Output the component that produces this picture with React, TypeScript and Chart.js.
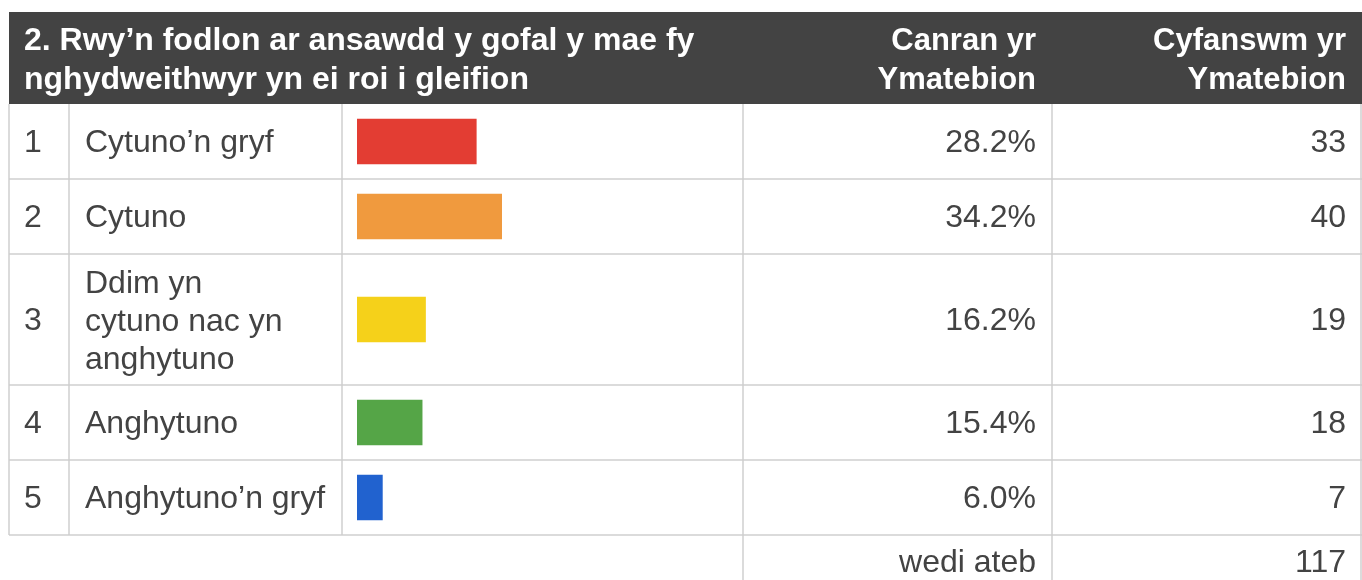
import { useEffect, useRef } from "react";
import { Chart, registerables } from "chart.js";

Chart.register(...registerables);

// ---- data ----
const questionTitle = ["2. Rwy’n fodlon ar ansawdd y gofal y mae fy", "nghydweithwyr yn ei roi i gleifion"];
const percentHeader = ["Canran yr", "Ymatebion"];
const countHeader = ["Cyfanswm yr", "Ymatebion"];
const rowNumbers = ["1", "2", "3", "4", "5"];
const categories = ["Cytuno’n gryf", "Cytuno", "Ddim yn cytuno nac yn anghytuno", "Anghytuno", "Anghytuno’n gryf"];
const categoryLines = [["Cytuno’n gryf"], ["Cytuno"], ["Ddim yn", "cytuno nac yn", "anghytuno"], ["Anghytuno"], ["Anghytuno’n gryf"]];
const percentages = [28.2, 34.2, 16.2, 15.4, 6.0];
const counts = [33, 40, 19, 18, 7];
const totalLabel = "wedi ateb";
const totalCount = 117;
const barColors = ["#e33d33", "#f09a3e", "#f5d11a", "#55a547", "#2162cf"];

// ---- layout / style ----
const W = 1362;
const H = 580;
const COLS = [9, 69, 342, 743, 1052, 1361];
const HEADER_TOP = 12;
const HEADER_BOTTOM = 104;
const BAR_LEFT = 357;
const PX_PER_PCT = 4.23;
const ROW_MIN = 75;
const LINE_H = 38;
const ROW_PAD = 17;
const DARK = "#434343";
const LINE = "#cfcfcf";
const BODY_FONT = "32px 'Liberation Sans', Arial, sans-serif";
const TITLE_FONT = "bold 32px 'Liberation Sans', Arial, sans-serif";
const HEAD_FONT = "bold 31px 'Liberation Sans', Arial, sans-serif";

const rowHeights = categoryLines.map((l) => Math.max(ROW_MIN, l.length * LINE_H + ROW_PAD));
const rowBounds: number[] = [0];
rowHeights.forEach((h, i) => rowBounds.push(rowBounds[i] + h));
const bodyHeight = rowBounds[rowBounds.length - 1];
const rowCenters = rowHeights.map((h, i) => rowBounds[i] + h / 2);

const tablePlugin = {
  id: "surveyTable",
  beforeDatasetsDraw(chart: any) {
    const ctx: CanvasRenderingContext2D = chart.ctx;
    const ys = chart.scales.y;
    const left = COLS[0];
    const right = COLS[COLS.length - 1];
    const bodyTop = ys.getPixelForValue(0);
    const bodyBottom = ys.getPixelForValue(bodyHeight);
    ctx.save();
    ctx.fillStyle = "#ffffff";
    ctx.fillRect(0, 0, W, H);

    // header
    ctx.fillStyle = DARK;
    ctx.fillRect(left, HEADER_TOP, right - left + 1, bodyTop - HEADER_TOP);
    ctx.fillStyle = "#ffffff";
    ctx.textBaseline = "alphabetic";
    const headBase = [50, 89];
    ctx.textAlign = "left";
    ctx.font = TITLE_FONT;
    questionTitle.forEach((t, i) => ctx.fillText(t, 24, headBase[i]));
    ctx.font = HEAD_FONT;
    ctx.textAlign = "right";
    percentHeader.forEach((t, i) => ctx.fillText(t, COLS[4] - 16, headBase[i]));
    countHeader.forEach((t, i) => ctx.fillText(t, COLS[5] - 15, headBase[i]));

    // grid lines
    ctx.strokeStyle = LINE;
    ctx.lineWidth = 1.5;
    ctx.beginPath();
    rowBounds.forEach((b, i) => {
      if (i === 0) return;
      const y = ys.getPixelForValue(b);
      ctx.moveTo(left, y);
      ctx.lineTo(right + 1, y);
    });
    COLS.forEach((x) => {
      ctx.moveTo(x, bodyTop);
      ctx.lineTo(x, bodyBottom);
    });
    [COLS[3], COLS[4], COLS[5]].forEach((x) => {
      ctx.moveTo(x, bodyBottom);
      ctx.lineTo(x, H);
    });
    ctx.stroke();

    // body text
    ctx.fillStyle = DARK;
    ctx.font = BODY_FONT;
    categories.forEach((_, i) => {
      const cy = ys.getPixelForValue(rowCenters[i]);
      const base = cy + 10.5;
      ctx.textAlign = "left";
      ctx.fillText(rowNumbers[i], 24, base);
      const lines = categoryLines[i];
      const off = lines.length > 1 ? 1 : 0;
      lines.forEach((ln, k) => {
        ctx.fillText(ln, 85, base + off + (k - (lines.length - 1) / 2) * LINE_H);
      });
      ctx.textAlign = "right";
      ctx.fillText(percentages[i].toFixed(1) + "%", COLS[4] - 16, base);
      ctx.fillText(String(counts[i]), COLS[5] - 15, base);
    });
    ctx.textAlign = "right";
    ctx.fillText(totalLabel, COLS[4] - 16, 572);
    ctx.fillText(String(totalCount), COLS[5] - 15, 572);
    ctx.restore();
  },
};

export default function App() {
  const ref = useRef<HTMLCanvasElement | null>(null);
  useEffect(() => {
    if (!ref.current) return;
    const chart = new Chart(ref.current, {
      type: "bar",
      data: {
        datasets: [
          {
            label: "Canran yr Ymatebion",
            data: percentages.map((p, i) => ({ x: p, y: rowCenters[i] })),
            backgroundColor: barColors,
            borderWidth: 0,
            barThickness: 45,
          },
        ],
      },
      options: {
        indexAxis: "y",
        animation: false,
        responsive: false,
        maintainAspectRatio: false,
        devicePixelRatio: 1,
        layout: {
          padding: {
            left: BAR_LEFT,
            right: W - (BAR_LEFT + 100 * PX_PER_PCT),
            top: HEADER_BOTTOM,
            bottom: H - (HEADER_BOTTOM + bodyHeight),
          },
        },
        scales: {
          x: { type: "linear", min: 0, max: 100, display: false, offset: false, grace: 0 },
          y: { type: "linear", min: 0, max: bodyHeight, reverse: true, display: false, offset: false, grace: 0 },
        },
        plugins: {
          legend: { display: false },
          tooltip: { enabled: false },
          title: { display: false },
        },
      } as any,
      plugins: [tablePlugin],
    });
    return () => chart.destroy();
  }, []);
  return (
    <div style={{ position: "absolute", left: 0, top: 0, width: W, height: H, background: "#fff" }}>
      <canvas ref={ref} width={W} height={H} style={{ display: "block", width: W, height: H }} />
    </div>
  );
}
